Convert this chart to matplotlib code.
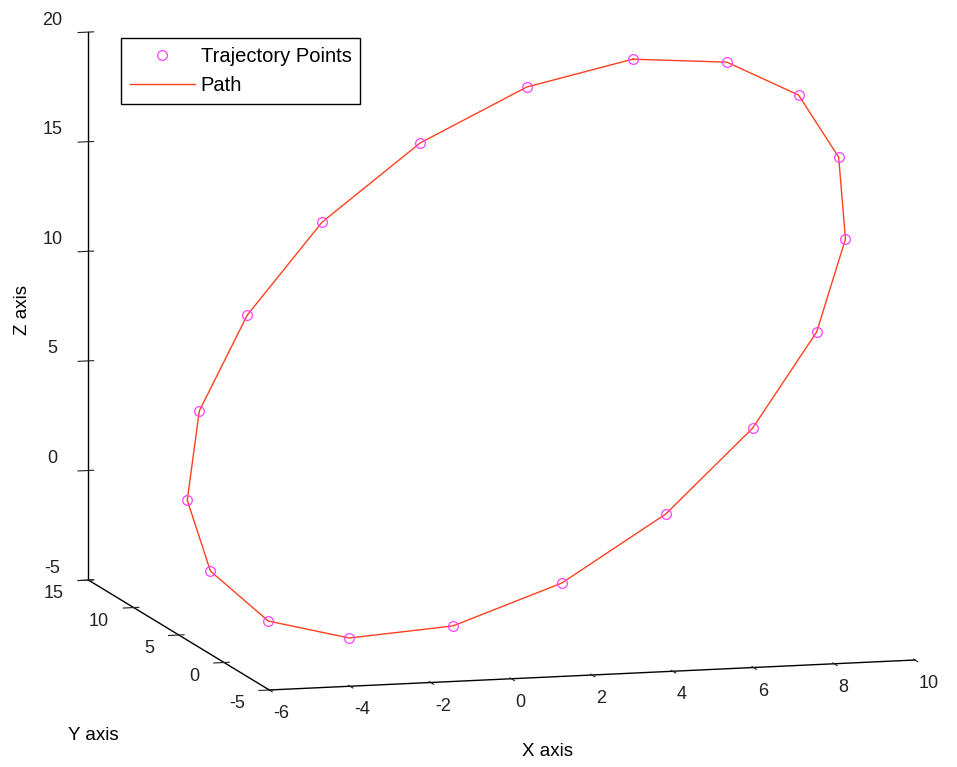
import matplotlib.pyplot as plt

plt.rcParams['font.family'] = ['Liberation Sans', 'DejaVu Sans']
plt.rcParams['axes.unicode_minus'] = False

# ── Data ───────────────────────────────────────────────────────────────
x_pts = [5.92, 7.85, 9.20, 9.79, 9.60, 8.64, 6.92, 4.79, 2.37, -0.06,
         -2.25, -3.85, -4.86, -5.03, -4.44, -3.05, -1.15, 1.19, 3.63]
y_pts = [8.0, 6.2, 4.3, 2.5, 0.9, -0.2, -0.8, -0.7, 0.0, 1.2,
         2.9, 4.7, 6.6, 8.4, 9.7, 10.6, 10.8, 10.4, 9.5]
z_pts = [19.50, 19.65, 18.51, 16.08, 12.76, 8.88, 4.79, 1.03, -2.09, -4.14,
         -4.93, -4.47, -2.58, 0.22, 3.91, 7.94, 11.97, 15.48, 18.05]

x_ticks = [-6, -4, -2, 0, 2, 4, 6, 8, 10]
y_ticks = [-5, 0, 5, 10, 15]
z_ticks = [-5, 0, 5, 10, 15, 20]

# closed path back to the first point
path_x = x_pts + x_pts[:1]
path_y = y_pts + y_pts[:1]
path_z = z_pts + z_pts[:1]

# ── Plot ───────────────────────────────────────────────────────────────
fig = plt.figure(figsize=(9.57, 7.67), dpi=100)
ax = fig.add_axes([0.1486, 0.0802, 0.7315, 0.9126], projection='3d',
                  computed_zorder=False)
ax.set_proj_type('ortho')
ax.view_init(elev=9.67, azim=-105.45)
ax.set_box_aspect((670, 679, 556), zoom=1.531)

ax.plot(x_pts, y_pts, z_pts, linestyle='none', marker='o', ms=7,
        mfc='none', mec='#ff40ff', mew=0.9, label='Trajectory Points',
        zorder=3, clip_on=False)
ax.plot(path_x, path_y, path_z, color='#ff4020', lw=1.0, label='Path',
        zorder=2, clip_on=False)

ax.set_xlim(x_ticks[0], x_ticks[-1])
ax.set_ylim(y_ticks[0], y_ticks[-1])
ax.set_zlim(z_ticks[0], z_ticks[-1])
ax.set_xticks(x_ticks)
ax.set_yticks(y_ticks)
ax.set_zticks(z_ticks)
ax.tick_params(labelsize=13, colors='#222222')
ax.tick_params(axis='x', pad=-2)
ax.tick_params(axis='y', pad=2)

# tick labels sit off to the side like MATLAB's
for lab in ax.get_xticklabels():
    lab.set_ha('left')
for lab in ax.get_yticklabels():
    lab.set_ha('right')
    lab.set_va('bottom')
for lab in ax.get_zticklabels():
    lab.set_va('bottom')

# MATLAB look: no panes, no grid, plain black axis lines
ax.grid(False)
for axis in (ax.xaxis, ax.yaxis, ax.zaxis):
    axis.set_pane_color((1, 1, 1, 0))
    axis.pane.set_edgecolor((1, 1, 1, 0))
    axis.line.set_color('black')
    axis.line.set_linewidth(1.0)

fig.text(0.5726, 0.0196, 'X axis', ha='center', va='center', fontsize=13.5)
fig.text(0.0972, 0.0417, 'Y axis', ha='center', va='center', fontsize=13.5)
fig.text(0.023, 0.596, 'Z axis', ha='center', va='center', fontsize=13.5,
         rotation=90)

leg = ax.legend(loc='upper left', bbox_to_anchor=(121 / 957, 1 - 38 / 767),
                bbox_transform=fig.transFigure, fontsize=14.5, fancybox=False,
                edgecolor='black', framealpha=1, borderaxespad=0,
                handlelength=3.2, handletextpad=0.3, borderpad=0.45,
                labelspacing=0.5)
leg.get_frame().set_linewidth(1.0)

fig.savefig('out.png', dpi=100)
